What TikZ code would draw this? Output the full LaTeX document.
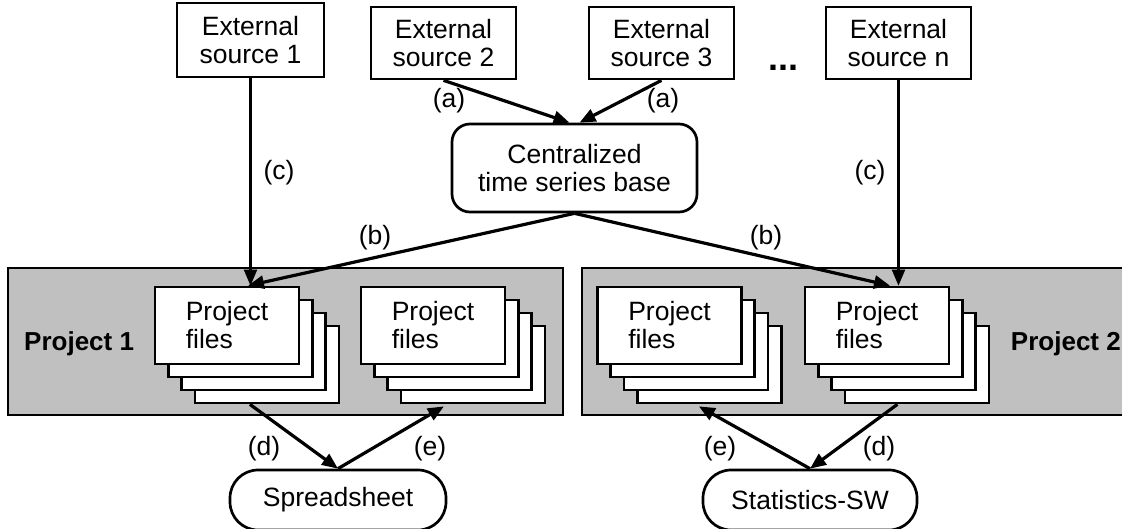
\documentclass[tikz,border=0pt]{standalone}
\usepackage{fontspec}
\setmainfont{Liberation Sans}
\usetikzlibrary{arrows.meta,calc}
\definecolor{projgray}{HTML}{C0C0C0}
\begin{document}
\begin{tikzpicture}[x=1pt,y=-1pt,
  font=\fontsize{26.5}{28}\selectfont,
  extbox/.style={draw,line width=2.7pt,fill=white,minimum width=145pt,minimum height=72pt,align=center,inner sep=0pt},
  roundbox/.style={draw,line width=2.7pt,fill=white,rounded corners=18pt,minimum width=245pt,minimum height=88pt,align=center,inner sep=0pt},
  stadium/.style={draw,line width=2.7pt,fill=white,rounded corners=28pt,minimum height=60pt,inner sep=0pt},
  pfile/.style={draw,line width=2.7pt,fill=white,minimum width=144pt,minimum height=77pt,align=left,inner sep=0pt},
  projbox/.style={draw,line width=2.7pt,fill=projgray},
  thick arrow/.style={line width=3.2pt,-{Triangle[length=16pt,width=13pt]}},
  thin arrow/.style={line width=2.2pt,-{Triangle[length=16pt,width=13pt]}},
  lbl/.style={inner sep=0pt,anchor=center},
  projlabel/.style={inner sep=0pt,font=\fontsize{26}{28}\selectfont\bfseries}
]
\useasboundingbox (0,0) rectangle (1122,528);
\clip (0,0) rectangle (1122,528);

% External sources
\node[extbox,minimum width=147pt,minimum height=74pt] (es1) at (250.5,40) {External\\source 1};
\node[extbox] (es2) at (443.5,43) {External\\source 2};
\node[extbox] (es3) at (661.5,43) {External\\source 3};
\node[extbox] (esn) at (898.5,43) {External\\source n};
\node[inner sep=0pt,anchor=base,font=\fontsize{36}{40}\selectfont\bfseries] (dots) at (783,70) {...};

% Centralized base
\node[roundbox] (centr) at (574.5,168) {Centralized\\time series base};

% Project areas
\draw[projbox] (8,268) rectangle (563,415);
\draw[projbox] (582,268) rectangle (1137,415);
\node[projlabel,anchor=base west] (proj1) at (24,350) {Project 1};
\node[projlabel,anchor=base east] (proj2) at (1121,350) {Project 2};

% stacks: back to front
\foreach \nm/\x in {p1l/155,p1r/361,p2l/597.5,p2r/805}{
  \node[pfile] (\nm3) at ({\x+72+3*13.3},{325.5+3*13}) {};
  \node[pfile] (\nm2) at ({\x+72+2*13.3},{325.5+2*13}) {};
  \node[pfile] (\nm1) at ({\x+72+1*13.3},{325.5+1*13}) {};
}
\node[pfile] (p1l) at (227,325.5) {Project\\files};
\node[pfile] (p1r) at (433,325.5) {Project\\files};
\node[pfile] (p2l) at (669.5,325.5) {Project\\files};
\node[pfile] (p2r) at (877,325.5) {Project\\files};

% Tools
\node[stadium,minimum width=216pt] (ss) at (338,500) {Spreadsheet};
\node[stadium,minimum width=214pt] (sw) at (810,500) {Statistics-SW};

% Connectors
\draw[thick arrow] (es2.south) -- ([xshift=-5pt]centr.north);
\draw[thick arrow] (es3.south) -- ([xshift=5pt]centr.north);
\draw[thin arrow] (es1.south) -- (es1.south |- p1l.north);
\draw[thin arrow] (esn.south) -- (esn.south |- p2r.north);
\draw[thick arrow] (centr.south) -- ([xshift=21pt]p1l.north);
\draw[thick arrow] (centr.south) -- ([xshift=13pt]p2r.north);
\draw[thick arrow] ([xshift=-17pt]p1l3.south) -- (ss.north);
\draw[thick arrow] (ss.north) -- ([xshift=-29pt,yshift=-2pt]p1r3.south);
\draw[thick arrow] (sw.north) -- ([xshift=-10.5pt,yshift=-2pt]p2l3.south);
\draw[thick arrow] ([xshift=-19.5pt]p2r3.south) -- (sw.north);

% Labels
\node[lbl] (la1) at (449,101) {(a)};
\node[lbl] (la2) at (663,101) {(a)};
\node[lbl] (lc1) at (279,173) {(c)};
\node[lbl] (lc2) at (870,173) {(c)};
\node[lbl] (lb1) at (375,238) {(b)};
\node[lbl] (lb2) at (766,238) {(b)};
\node[lbl] (ld1) at (264,449) {(d)};
\node[lbl] (le1) at (430,449) {(e)};
\node[lbl] (le2) at (720,449) {(e)};
\node[lbl] (ld2) at (879,449) {(d)};
\end{tikzpicture}
\end{document}
